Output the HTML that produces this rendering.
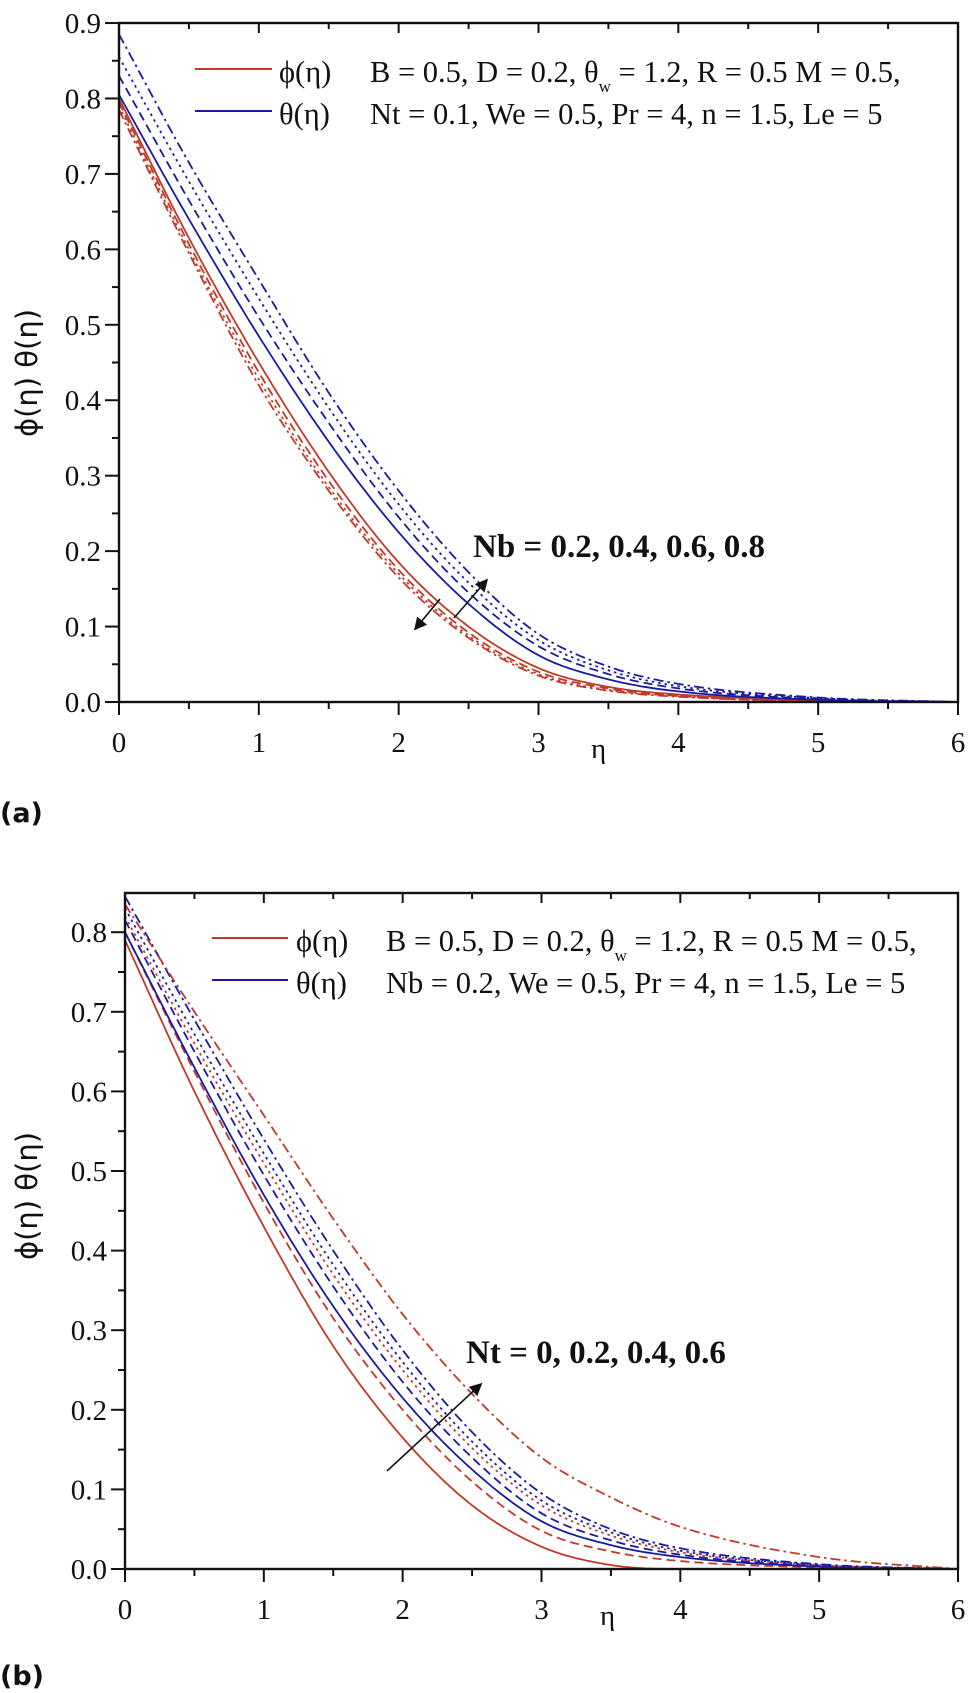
<!DOCTYPE html>
<html><head><meta charset="utf-8">
<style>
html,body{margin:0;padding:0;background:#fff;}
svg{display:block;}
.t{font-family:"Liberation Serif",serif;font-size:29px;fill:#111;}
.lg{font-family:"Liberation Serif",serif;font-size:30.5px;fill:#111;}
.b{font-family:"Liberation Serif",serif;font-size:33px;font-weight:bold;fill:#111;}
.yl{font-family:"DejaVu Sans","Liberation Sans",sans-serif;font-size:29px;fill:#111;}
.p{font-family:"DejaVu Sans","Liberation Sans",sans-serif;font-size:27px;font-weight:bold;fill:#111;}
</style></head>
<body>
<svg id="s" width="972" height="1693" viewBox="0 0 972 1693" xmlns="http://www.w3.org/2000/svg">
<defs><marker id="ah" markerWidth="8" markerHeight="8" refX="6" refY="4" orient="auto"><path d="M0,0 L8,4 L0,8 Z" fill="#111"/></marker></defs>
<g id="g"></g>
<!-- top legend -->
<line x1="195" y1="69" x2="272" y2="69" stroke="#c0392b" stroke-width="2"/>
<line x1="195" y1="111" x2="272" y2="111" stroke="#1a1aa0" stroke-width="2"/>
<text class="lg" x="279" y="82">ϕ(η)</text>
<text class="lg" x="279" y="124">θ(η)</text>
<text class="lg" x="370" y="82">B = 0.5, D = 0.2, θ<tspan font-size="17" dy="10">w</tspan><tspan dy="-10"> = 1.2, R = 0.5 M = 0.5,</tspan></text>
<text class="lg" x="370" y="124">Nt = 0.1, We = 0.5, Pr = 4, n = 1.5, Le = 5</text>
<text class="b" x="473" y="557">Nb = 0.2, 0.4, 0.6, 0.8</text>
<line x1="454" y1="618" x2="486" y2="581" stroke="#111" stroke-width="1.6" marker-end="url(#ah)"/>
<line x1="440" y1="599" x2="416" y2="628" stroke="#111" stroke-width="1.6" marker-end="url(#ah)"/>
<text class="yl" transform="translate(37,373) rotate(-90)" text-anchor="middle">ϕ(η) θ(η)</text>
<text class="t" x="591" y="758">η</text>
<text class="p" x="0" y="822">(a)</text>
<!-- bottom legend -->
<line x1="212" y1="938" x2="288" y2="938" stroke="#c0392b" stroke-width="2"/>
<line x1="212" y1="980" x2="288" y2="980" stroke="#1a1aa0" stroke-width="2"/>
<text class="lg" x="296" y="951">ϕ(η)</text>
<text class="lg" x="296" y="993">θ(η)</text>
<text class="lg" x="386" y="951">B = 0.5, D = 0.2, θ<tspan font-size="17" dy="10">w</tspan><tspan dy="-10"> = 1.2, R = 0.5 M = 0.5,</tspan></text>
<text class="lg" x="386" y="993">Nb = 0.2, We = 0.5, Pr = 4, n = 1.5, Le = 5</text>
<text class="b" x="466" y="1363">Nt = 0, 0.2, 0.4, 0.6</text>
<line x1="387" y1="1471" x2="480" y2="1385" stroke="#111" stroke-width="1.6" marker-end="url(#ah)"/>
<text class="yl" transform="translate(37,1196) rotate(-90)" text-anchor="middle">ϕ(η) θ(η)</text>
<text class="t" x="600" y="1625">η</text>
<text class="p" x="0" y="1685">(b)</text>
</svg>
<script>
(function(){
var g=document.getElementById('g'),NS='http://www.w3.org/2000/svg';
function el(n,a){var e=document.createElementNS(NS,n);for(var k in a)e.setAttribute(k,a[k]);g.appendChild(e);return e;}
var R='#c0392b',B='#1a1aa0';
var DS={solid:'',dash:'9,5',dot:'2.5,4',dd:'10,4,2.5,4'};
var xs=[0,0.5,1,1.5,2,2.5,3,3.5,4,5,6];
function spline(P){
  var n=P.length,d=[],m=[];
  for(var i=0;i<n-1;i++)d[i]=(P[i+1][1]-P[i][1])/(P[i+1][0]-P[i][0]);
  m[0]=d[0];m[n-1]=d[n-2];
  for(i=1;i<n-1;i++){m[i]=(d[i-1]*d[i]<=0)?0:(d[i-1]+d[i])/2;}
  for(i=0;i<n-1;i++){if(d[i]==0){m[i]=m[i+1]=0;continue;}var a=m[i]/d[i],b=m[i+1]/d[i],s=a*a+b*b;if(s>9){var t=3/Math.sqrt(s);m[i]=t*a*d[i];m[i+1]=t*b*d[i];}}
  var out=[];
  for(i=0;i<n-1;i++){var h=P[i+1][0]-P[i][0];for(var k=0;k<20;k++){var t=k/20,t2=t*t,t3=t2*t;
    out.push([P[i][0]+t*h,(2*t3-3*t2+1)*P[i][1]+(t3-2*t2+t)*h*m[i]+(-2*t3+3*t2)*P[i+1][1]+(t3-t2)*h*m[i+1]]);}}
  out.push(P[n-1]);return out;}
function plot(ax,curves){
  curves.forEach(function(c){
    var P=xs.map(function(x,i){return [x,c.v[i]];});
    var pts=spline(P).map(function(p){return (ax.x0+p[0]*ax.sx).toFixed(1)+','+(ax.y0-p[1]*ax.sy).toFixed(1);});
    el('polyline',{points:pts.join(' '),fill:'none',stroke:c.c,'stroke-width':1.8,'stroke-dasharray':DS[c.s]});
  });
  el('rect',{x:ax.x0,y:ax.top,width:ax.x1-ax.x0,height:ax.y0-ax.top,fill:'none',stroke:'#111','stroke-width':2.4});
  for(var i=0;i<=12;i++){var x=ax.x0+i*0.5*ax.sx,maj=i%2==0;
    el('line',{x1:x,y1:ax.y0,x2:x,y2:ax.y0+(maj?13:7),stroke:'#111','stroke-width':2});
    el('line',{x1:x,y1:ax.top,x2:x,y2:ax.top+(maj?10:6),stroke:'#111','stroke-width':2});
    if(maj){var t=el('text',{x:x,y:ax.y0+50,'text-anchor':'middle','class':'t'});t.textContent=String(i/2);}}
  for(var j=0;j<=ax.n*2;j++){var v=j*0.05,y=ax.y0-v*ax.sy,maj=j%2==0;if(y<ax.top-1)break;
    el('line',{x1:ax.x0-(maj?14:7),y1:y,x2:ax.x0,y2:y,stroke:'#111','stroke-width':2});
    if(maj){var t=el('text',{x:ax.x0-18,y:y+10,'text-anchor':'end','class':'t'});t.textContent=v.toFixed(1);}}
}
var axA={x0:119,x1:958,sx:139.83,y0:702,top:23,sy:754.4,n:9};
plot(axA,[
 {c:R,s:'dd',v:[0.785,0.595,0.42,0.28,0.165,0.085,0.035,0.015,0.007,0.001,0]},
 {c:R,s:'dot',v:[0.79,0.6,0.428,0.285,0.17,0.088,0.037,0.016,0.008,0.001,0]},
 {c:R,s:'dash',v:[0.795,0.607,0.437,0.293,0.175,0.092,0.04,0.018,0.008,0.001,0]},
 {c:R,s:'solid',v:[0.80,0.615,0.45,0.305,0.185,0.1,0.045,0.02,0.01,0.002,0]},
 {c:B,s:'solid',v:[0.805,0.64,0.485,0.345,0.225,0.13,0.062,0.03,0.014,0.003,0]},
 {c:B,s:'dash',v:[0.83,0.665,0.51,0.37,0.245,0.145,0.074,0.037,0.018,0.004,0]},
 {c:B,s:'dot',v:[0.855,0.69,0.535,0.39,0.262,0.158,0.082,0.042,0.021,0.005,0]},
 {c:B,s:'dd',v:[0.885,0.715,0.56,0.41,0.28,0.172,0.09,0.047,0.024,0.006,0]}
]);
var axB={x0:125,x1:958,sx:138.83,y0:1569,top:893,sy:796,n:8};
plot(axB,[
 {c:R,s:'solid',v:[0.79,0.6,0.43,0.28,0.165,0.08,0.028,0.005,0,0,0]},
 {c:R,s:'dash',v:[0.80,0.625,0.46,0.315,0.2,0.11,0.048,0.022,0.01,0.002,0]},
 {c:B,s:'solid',v:[0.80,0.63,0.47,0.33,0.215,0.125,0.06,0.03,0.015,0.003,0]},
 {c:B,s:'dash',v:[0.815,0.65,0.495,0.355,0.235,0.14,0.07,0.036,0.018,0.004,0]},
 {c:R,s:'dot',v:[0.82,0.66,0.51,0.37,0.25,0.152,0.08,0.042,0.021,0.005,0]},
 {c:B,s:'dot',v:[0.83,0.672,0.522,0.382,0.26,0.16,0.086,0.046,0.023,0.005,0]},
 {c:B,s:'dd',v:[0.845,0.69,0.54,0.40,0.275,0.172,0.095,0.05,0.026,0.006,0]},
 {c:R,s:'dd',v:[0.835,0.70,0.57,0.44,0.32,0.22,0.14,0.09,0.053,0.015,0]}
]);
})();
</script>
</body></html>
